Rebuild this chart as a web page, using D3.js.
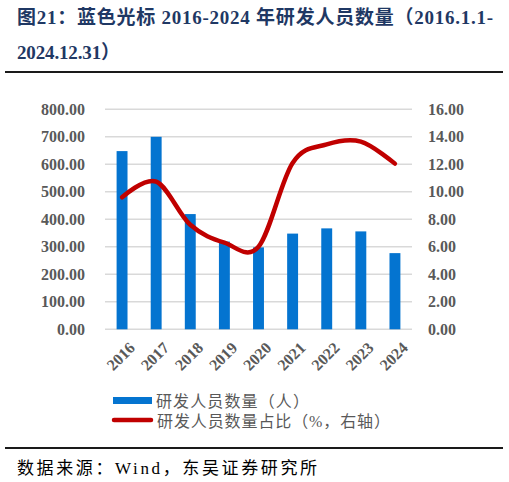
<!DOCTYPE html>
<html>
<head>
<meta charset="utf-8">
<script src="https://cdn.jsdelivr.net/npm/d3@7"></script>
<style>
  body { margin: 0; background: #fff; }
  svg text { font-family: "Liberation Serif", "Times New Roman", "DejaVu Serif", "Noto Sans CJK SC", serif; }
</style>
</head>
<body>
<script>
// Data
var years = ["2016", "2017", "2018", "2019", "2020", "2021", "2022", "2023", "2024"];
var staff = [648, 700, 419, 319, 298, 348, 367, 356, 277];
var staffShare = [9.6, 10.74, 7.6, 6.3, 6.0, 12.1, 13.45, 13.65, 12.05];
var leftTicks = [0, 100, 200, 300, 400, 500, 600, 700, 800];
var rightTicks = [0, 2, 4, 6, 8, 10, 12, 14, 16];

// Width and height
var w = 509;
var h = 482;

var serif = '"Liberation Serif", "Times New Roman", serif';
var cjk = '"Liberation Serif", "Noto Sans CJK SC", serif';

var svg = d3.select("body")
      .append("svg")
      .attr("width", w)
      .attr("height", h);

// Title
var title = svg.append("text")
      .style("font-weight", "bold")
      .style("font-size", "19px")
      .style("font-family", cjk)
      .attr("fill", "#1f3864");
title.append("tspan").attr("x", 17).attr("y", 24)
     .attr("textLength", 476).attr("lengthAdjust", "spacing")
     .text("图21：蓝色光标 2016-2024 年研发人员数量（2016.1.1-");
title.append("tspan").attr("x", 17).attr("y", 59)
     .attr("textLength", 103).attr("lengthAdjust", "spacing")
     .text("2024.12.31）");

svg.append("line")
   .attr("x1", 5).attr("x2", 503)
   .attr("y1", 72).attr("y2", 72)
   .attr("stroke", "#1a1a1a").attr("stroke-width", 2);

// Scales
var x = d3.scaleBand()
      .domain(years)
      .range([105, 412])
      .paddingInner(0.68)
      .paddingOuter(0.34);

var yLeft = d3.scaleLinear().domain([0, 800]).range([329.3, 109.3]);
var yRight = d3.scaleLinear().domain([0, 16]).range([329.3, 109.3]);

// Gridlines
svg.selectAll("line.grid")
   .data(leftTicks)
   .enter()
   .append("line")
   .attr("class", "grid")
   .attr("x1", 105).attr("x2", 412)
   .attr("y1", function(d) { return yLeft(d); })
   .attr("y2", function(d) { return yLeft(d); })
   .attr("stroke", "#d9d9d9")
   .attr("stroke-width", 1.5);

// Left axis
var leftAxis = svg.append("g")
      .attr("transform", "translate(92,0)")
      .call(d3.axisLeft(yLeft).tickValues(leftTicks).tickSize(0).tickPadding(7)
            .tickFormat(d3.format(".2f")));
leftAxis.select(".domain").remove();
leftAxis.selectAll("text")
   .style("font-size", "16px").style("font-weight", "bold")
   .style("font-family", serif).attr("fill", "#595959");

// Right axis
var rightAxis = svg.append("g")
      .attr("transform", "translate(421,0)")
      .call(d3.axisRight(yRight).tickValues(rightTicks).tickSize(0).tickPadding(7)
            .tickFormat(d3.format(".2f")));
rightAxis.select(".domain").remove();
rightAxis.selectAll("text")
   .style("font-size", "16px").style("font-weight", "bold")
   .style("font-family", serif).attr("fill", "#595959");

// Bars
svg.selectAll("rect.bar")
   .data(years)
   .enter()
   .append("rect")
   .attr("class", "bar")
   .attr("x", function(d) { return x(d); })
   .attr("width", x.bandwidth())
   .attr("y", function(d, i) { return yLeft(staff[i]); })
   .attr("height", function(d, i) { return yLeft(0) - yLeft(staff[i]); })
   .attr("fill", "#0474d0");

// Line
var line = d3.line()
      .x(function(d, i) { return x(years[i]) + x.bandwidth() / 2; })
      .y(function(d) { return yRight(d); })
      .curve(d3.curveCatmullRom.alpha(0));

svg.append("path")
   .datum(staffShare)
   .attr("d", line)
   .attr("fill", "none")
   .attr("stroke", "#c00000")
   .attr("stroke-width", 4.5)
   .attr("stroke-linecap", "round");

// X labels
svg.selectAll("text.xlab")
   .data(years)
   .enter()
   .append("text")
   .attr("class", "xlab")
   .attr("transform", function(d) {
     return "translate(" + (x(d) + x.bandwidth() / 2 + 6) + ",341) rotate(-45)";
   })
   .attr("text-anchor", "end")
   .attr("dy", "0.7em")
   .style("font-size", "16px")
   .style("font-weight", "bold")
   .style("font-family", serif)
   .attr("fill", "#595959")
   .text(function(d) { return d; });

// Legend
svg.append("rect")
   .attr("x", 113).attr("y", 397)
   .attr("width", 39).attr("height", 7)
   .attr("fill", "#0474d0");
svg.append("text")
   .attr("x", 156).attr("y", 407)
   .attr("textLength", 153).attr("lengthAdjust", "spacing")
   .style("font-size", "16px")
   .style("font-family", cjk)
   .attr("fill", "#595959")
   .text("研发人员数量（人）");

svg.append("line")
   .attr("x1", 114).attr("x2", 151)
   .attr("y1", 420).attr("y2", 420)
   .attr("stroke", "#c00000")
   .attr("stroke-width", 4.5)
   .attr("stroke-linecap", "round");
svg.append("text")
   .attr("x", 157).attr("y", 427)
   .attr("textLength", 233).attr("lengthAdjust", "spacing")
   .style("font-size", "16px")
   .style("font-family", cjk)
   .attr("fill", "#595959")
   .text("研发人员数量占比（%，右轴）");

// Source
svg.append("line")
   .attr("x1", 5).attr("x2", 503)
   .attr("y1", 448).attr("y2", 448)
   .attr("stroke", "#1a1a1a").attr("stroke-width", 2);

svg.append("text")
   .attr("x", 17).attr("y", 474)
   .attr("textLength", 300).attr("lengthAdjust", "spacing")
   .style("font-size", "17px")
   .style("font-family", cjk)
   .attr("fill", "#000")
   .text("数据来源：Wind，东吴证券研究所");
</script>
</body>
</html>
